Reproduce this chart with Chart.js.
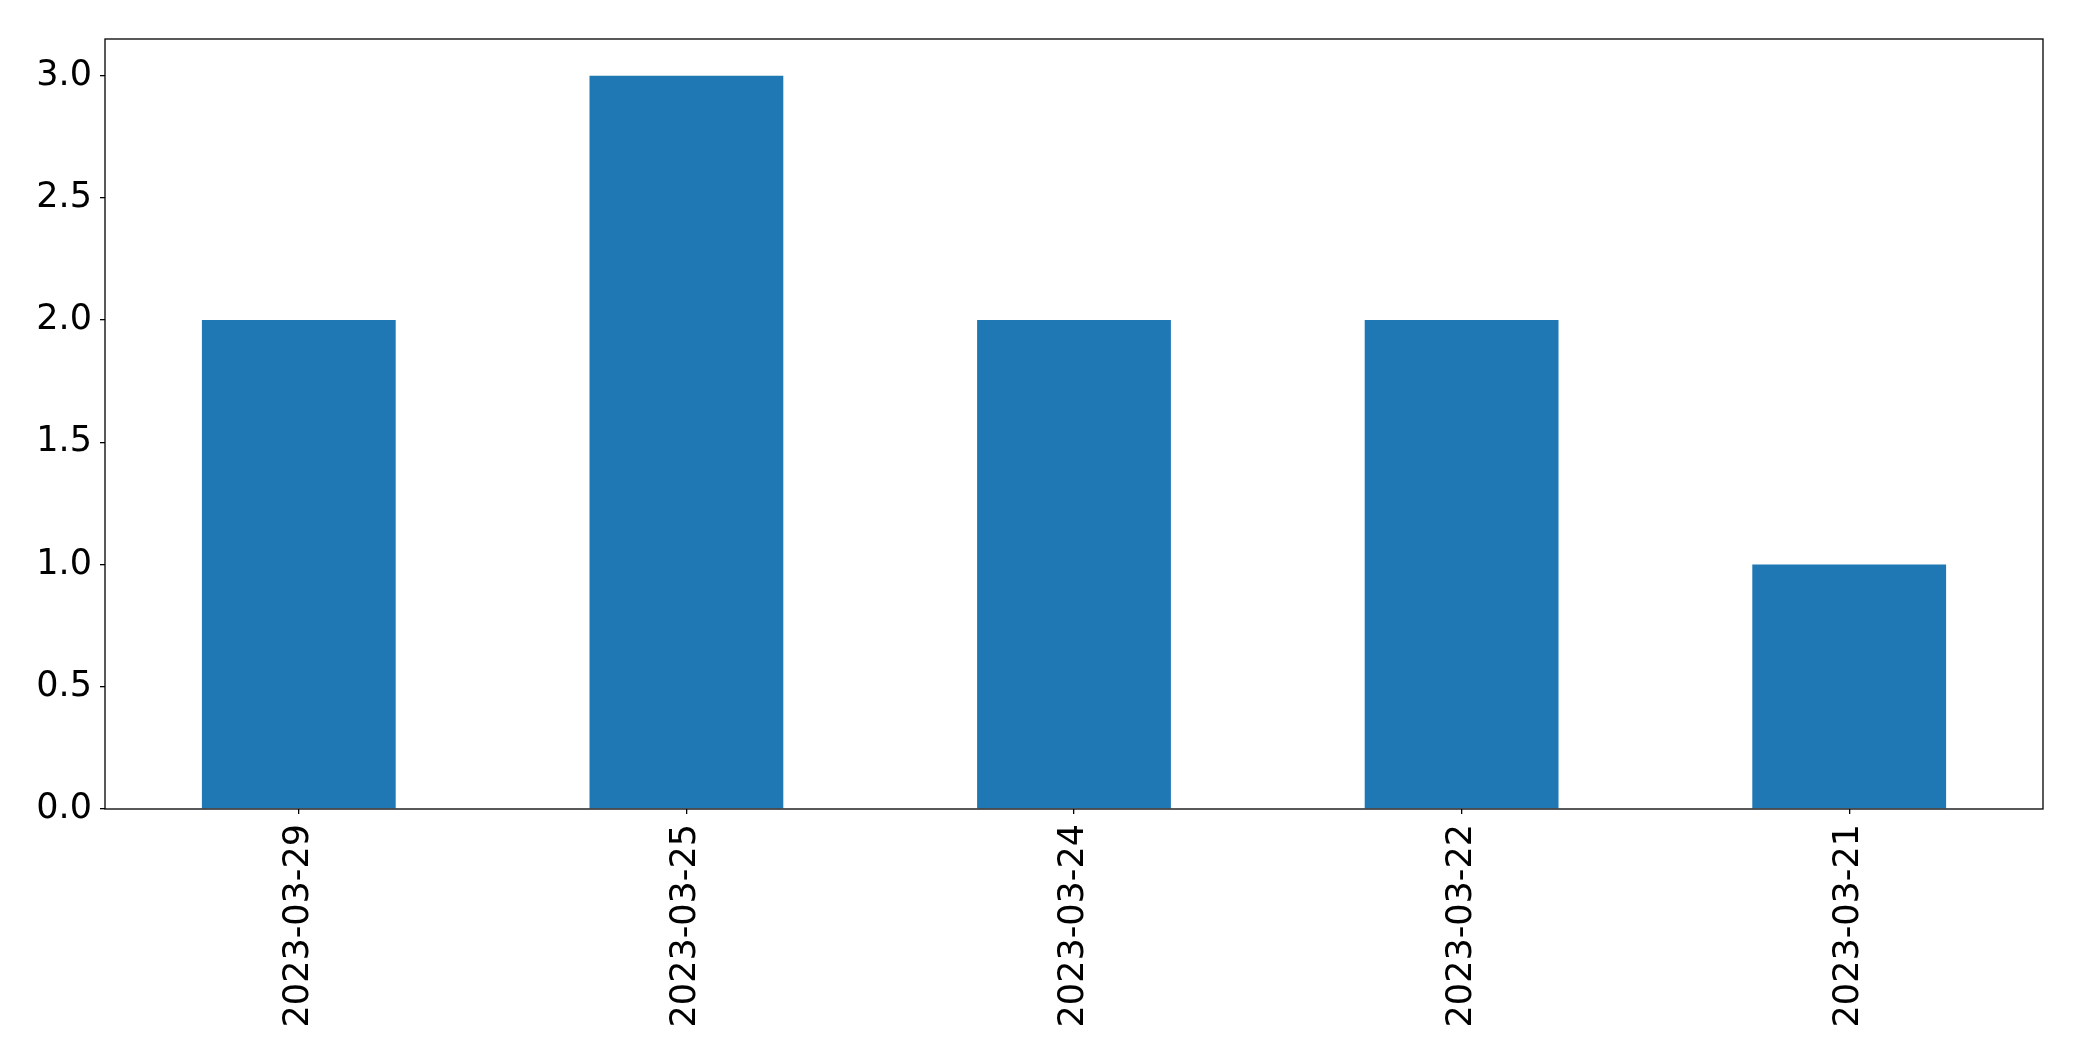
<!DOCTYPE html>
<html>
<head>
<meta charset="utf-8">
<script src="https://cdn.jsdelivr.net/npm/chart.js@4/dist/chart.umd.min.js"></script>
<style>
  html, body { margin: 0; padding: 0; background: #fff; }
  #wrap { width: 2082px; height: 1061px; }
</style>
</head>
<body>
<div id="wrap"><canvas id="barChart" width="2082" height="1061"></canvas></div>
<script>
const dates = ["2023-03-29", "2023-03-25", "2023-03-24", "2023-03-22", "2023-03-21"];
const counts = [2, 3, 2, 2, 1];
const yTicks = [0, 0.5, 1.0, 1.5, 2.0, 2.5, 3.0];

// frame around the plot area, like matplotlib's spines
const frame = {
    id: "frame",
    afterDraw(chart) {
        const a = chart.chartArea;
        const ctx = chart.ctx;
        ctx.save();
        ctx.strokeStyle = "#000";
        ctx.lineWidth = 1.3;
        ctx.strokeRect(a.left, a.top, a.right - a.left, a.bottom - a.top);
        ctx.restore();
    }
};

const ctx = document.getElementById("barChart").getContext("2d");
new Chart(ctx, {
    type: "bar",
    data: {
        labels: dates,
        datasets: [{
            data: counts,
            backgroundColor: "#1f77b4",
            borderWidth: 0,
            barPercentage: 0.5,
            categoryPercentage: 1.0
        }]
    },
    options: {
        responsive: false,
        animation: false,
        devicePixelRatio: 1,
        layout: { padding: { top: 39, right: 39, left: 0, bottom: 0 } },
        plugins: { legend: { display: false }, tooltip: { enabled: false } },
        scales: {
            x: {
                offset: true,
                grid: { display: true, offset: false, drawOnChartArea: false, drawTicks: true, tickLength: 5, color: "#000", lineWidth: 1.3 },
                border: { display: false },
                ticks: {
                    color: "#000",
                    font: { family: "DejaVu Sans", size: 35 },
                    maxRotation: 90,
                    minRotation: 90,
                    padding: 10,
                    autoSkip: false
                },
                afterFit(scale) { scale.height = 252; }
            },
            y: {
                min: 0,
                max: 3.15,
                grid: { display: true, drawOnChartArea: false, drawTicks: true, tickLength: 5, color: "#000", lineWidth: 1.3 },
                border: { display: false },
                afterBuildTicks(scale) { scale.ticks = yTicks.map(v => ({ value: v })); },
                ticks: {
                    color: "#000",
                    font: { family: "DejaVu Sans", size: 35 },
                    padding: 8,
                    callback: v => Number(v).toFixed(1)
                },
                afterFit(scale) { scale.width = 105; }
            }
        }
    },
    plugins: [frame]
});
</script>
</body>
</html>
